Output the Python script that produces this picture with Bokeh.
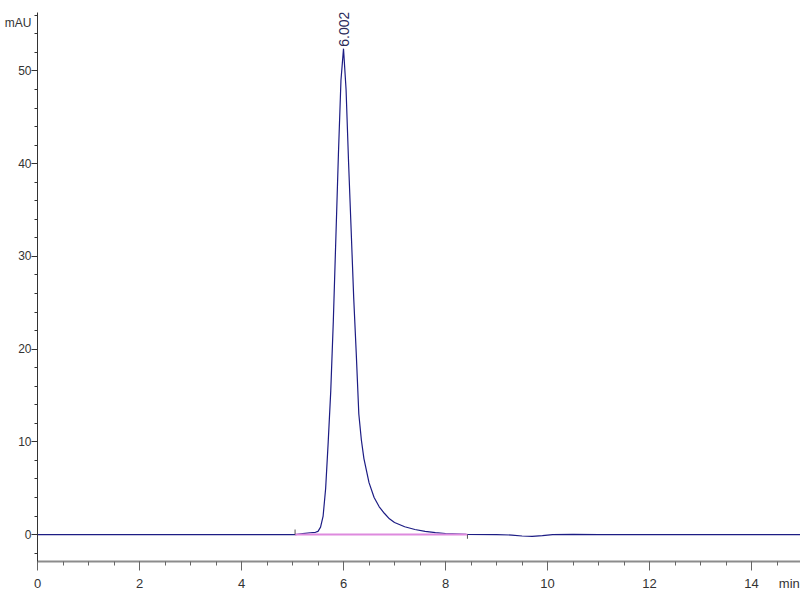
import math
from bokeh.plotting import figure
from bokeh.models import (SingleIntervalTicker, FixedTicker, LinearAxis, Range1d)
from bokeh.core.properties import value
from bokeh.embed import file_html
from bokeh.resources import INLINE

# ---- data ----
times = [0.0, 5.0, 5.06, 5.2, 5.35, 5.45, 5.5, 5.55, 5.6, 5.65, 5.7, 5.75,
         5.8, 5.85, 5.9, 5.95, 6.0, 6.05, 6.1, 6.15, 6.2, 6.25, 6.3, 6.35,
         6.4, 6.5, 6.6, 6.7, 6.8, 6.9, 7.0, 7.2, 7.4, 7.6, 7.8, 8.0, 8.4,
         9.0, 9.3, 9.5, 9.7, 9.9, 10.1, 10.5, 11.0, 15.0]
signal = [0.0, 0.0, 0.0, 0.1, 0.2, 0.25, 0.35, 0.8, 2.0, 5.0, 10.0, 15.5,
          23.0, 32.0, 41.0, 49.0, 52.4, 48.0, 40.0, 32.8, 25.5, 19.5, 13.0, 10.2,
          8.2, 5.6, 4.0, 3.0, 2.3, 1.7, 1.3, 0.85, 0.55, 0.35, 0.22, 0.12, 0.03,
          0.0, -0.05, -0.15, -0.2, -0.12, 0.0, 0.02, 0.0, 0.0]
peak_rt = [6.002]
peak_height = [52.4]
peak_labels = ["6.002"]
baseline_t = [5.05, 8.43]
baseline_v = [0.0, 0.0]
x_ticks = [0, 2, 4, 6, 8, 10, 12, 14]
y_ticks = [0, 10, 20, 30, 40, 50]
y_unit = "mAU"
x_unit = "min"
y_unit_pos = 55.2
x_unit_pos = 14.74

FONT = "Liberation Sans"
TXT = "#333333"

p = figure(width=800, height=600, output_backend="svg", toolbar_location=None,
           x_range=Range1d(0, 14.96), y_range=Range1d(-2.9, 56.3),
           min_border_left=37, min_border_right=0, min_border_top=12,
           min_border_bottom=39)
p.outline_line_color = None
p.xgrid.grid_line_color = None
p.ygrid.grid_line_color = None
p.background_fill_color = "white"

# main trace
p.line(times, signal, line_color="#1c1c84", line_width=1.2)
# integration baseline
p.line(baseline_t, baseline_v, line_color="#de8ade", line_width=2)
# baseline start / end markers
p.segment(x0=[baseline_t[0]], y0=[0.0], x1=[baseline_t[0]], y1=[0.55],
          line_color="#555555", line_width=1)
p.segment(x0=[baseline_t[1]], y0=[0.0], x1=[baseline_t[1]], y1=[-0.45],
          line_color="#555555", line_width=1)

# peak label (rotated)
p.text(x=peak_rt, y=peak_height, text=peak_labels, angle=math.pi / 2,
       text_align="left", text_baseline="middle",
       text_font=value(FONT), text_font_size="14px",
       text_color="#2a2a5a", x_offset=0, y_offset=-2)

# ---- x axis: line + ticks (inner), labels (outer) ----
xa = p.xaxis[0]
xa.ticker = SingleIntervalTicker(interval=2, num_minor_ticks=4)
xa.axis_line_color = "#8c8c8c"
xa.axis_line_width = 2
xa.major_tick_line_color = "#666666"
xa.minor_tick_line_color = "#666666"
xa.major_tick_out = 9
xa.major_tick_in = 0
xa.minor_tick_out = 4
xa.minor_tick_in = 0
xa.major_label_standoff = 0
xa.major_label_text_font_size = "0px"

xl = LinearAxis(ticker=FixedTicker(ticks=x_ticks + [x_unit_pos]),
                major_label_overrides={x_unit_pos: x_unit})
xl.axis_line_color = None
xl.major_tick_line_color = None
xl.minor_tick_line_color = None
xl.major_tick_out = 0
xl.major_tick_in = 0
xl.minor_tick_out = 0
xl.minor_tick_in = 0
xl.major_label_standoff = 5
xl.major_label_text_font = FONT
xl.major_label_text_font_size = "13px"
xl.major_label_text_color = TXT
p.add_layout(xl, "below")

# ---- y axis: line + ticks (inner), labels (outer) ----
ya = p.yaxis[0]
ya.ticker = SingleIntervalTicker(interval=10, num_minor_ticks=5)
ya.axis_line_color = "#333333"
ya.axis_line_width = 1
ya.major_tick_line_color = "#333333"
ya.minor_tick_line_color = "#333333"
ya.major_tick_out = 6
ya.major_tick_in = 0
ya.minor_tick_out = 3
ya.minor_tick_in = 0
ya.major_label_standoff = 0
ya.major_label_text_font_size = "0px"

yl = LinearAxis(ticker=FixedTicker(ticks=y_ticks + [y_unit_pos]),
                major_label_overrides={y_unit_pos: y_unit})
yl.axis_line_color = None
yl.major_tick_line_color = None
yl.minor_tick_line_color = None
yl.major_tick_out = 0
yl.major_tick_in = 0
yl.minor_tick_out = 0
yl.minor_tick_in = 0
yl.major_label_standoff = 0
yl.major_label_text_font = FONT
yl.major_label_text_font_size = "12px"
yl.major_label_text_color = TXT
p.add_layout(yl, "left")

open("out.html", "w").write(file_html(p, INLINE))
